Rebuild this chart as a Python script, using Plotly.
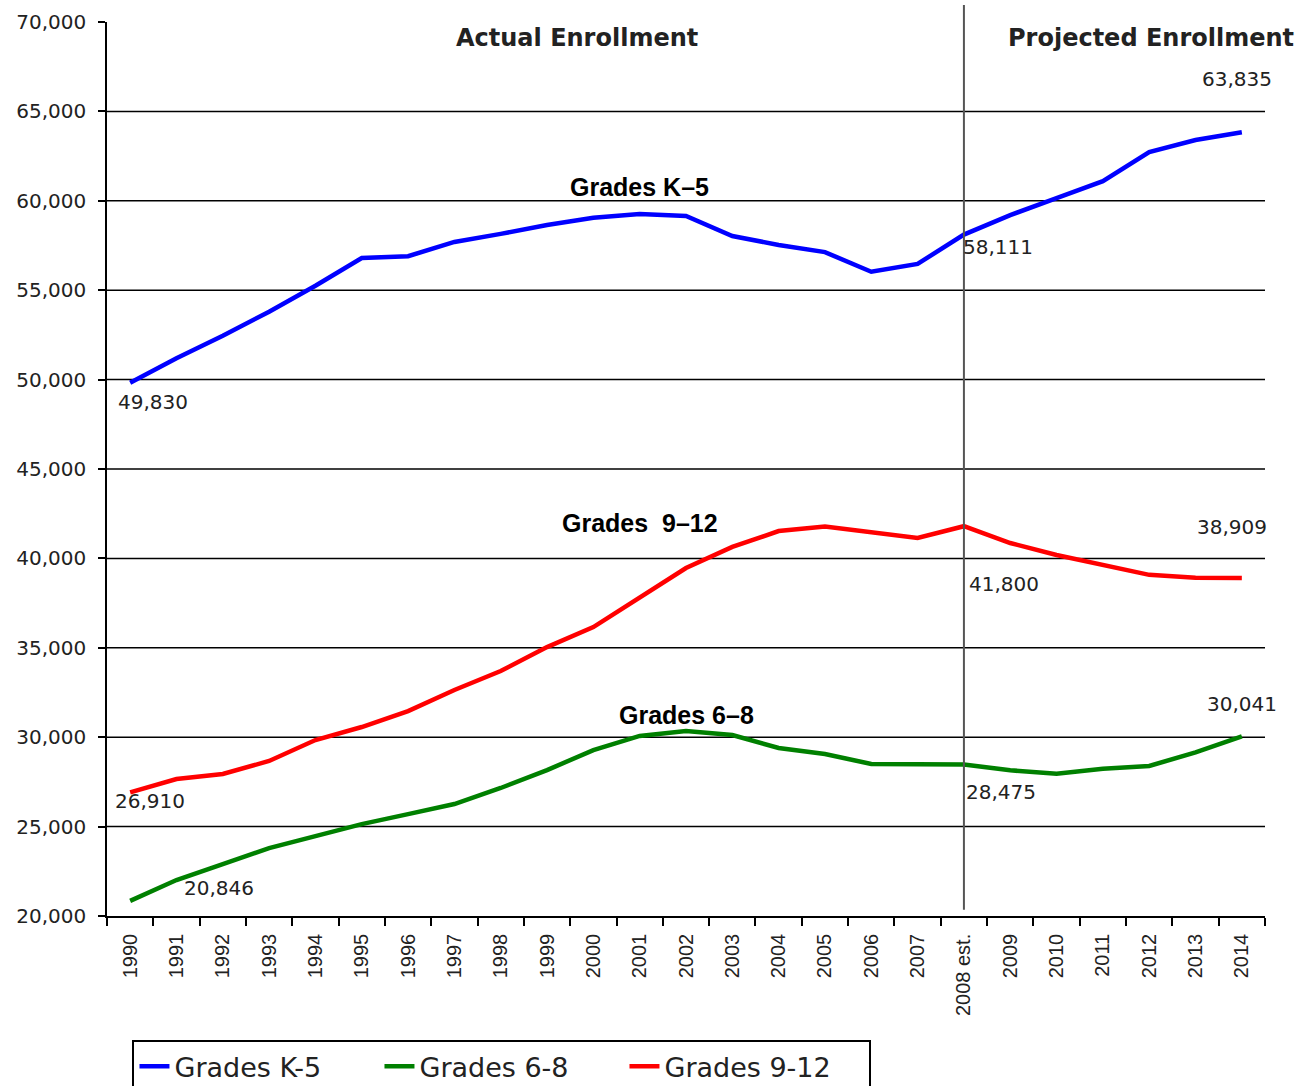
import plotly.graph_objects as go

years = ["1990", "1991", "1992", "1993", "1994", "1995", "1996", "1997", "1998",
         "1999", "2000", "2001", "2002", "2003", "2004", "2005", "2006", "2007",
         "2008 est.", "2009", "2010", "2011", "2012", "2013", "2014"]

grades_k5 = [49830, 51200, 52450, 53800, 55250, 56800, 56900, 57700, 58150,
             58650, 59050, 59260, 59150, 58030, 57530, 57130, 56030, 56470,
             58111, 59200, 60150, 61100, 62730, 63400, 63835]

grades_6_8 = [20846, 22010, 22900, 23800, 24470, 25140, 25700, 26260, 27160,
              28160, 29280, 30070, 30350, 30120, 29400, 29060, 28500, 28500,
              28475, 28150, 27950, 28230, 28390, 29150, 30041]

grades_9_12 = [26910, 27660, 27940, 28670, 29840, 30570, 31460, 32640, 33700,
               35040, 36160, 37840, 39460, 40640, 41530, 41780, 41480, 41140,
               41800, 40860, 40190, 39630, 39080, 38920, 38909]

y_ticks = [20000, 25000, 30000, 35000, 40000, 45000, 50000, 55000, 60000, 65000, 70000]
grid_vals = [25000, 30000, 35000, 40000, 45000, 50000, 55000, 60000, 65000]

fig = go.Figure()
fig.add_trace(go.Scatter(x=years, y=grades_k5, mode="lines", name="Grades K-5",
                         line=dict(color="#0000FF", width=4.5)))
fig.add_trace(go.Scatter(x=years, y=grades_6_8, mode="lines", name="Grades 6-8",
                         line=dict(color="#008000", width=4.5)))
fig.add_trace(go.Scatter(x=years, y=grades_9_12, mode="lines", name="Grades 9-12",
                         line=dict(color="#FF0000", width=4.5)))

shapes = []
for g in grid_vals:
    shapes.append(dict(type="line", xref="paper", x0=0, x1=1, yref="y", y0=g, y1=g,
                       line=dict(color="black", width=1.5), layer="below"))
shapes.append(dict(type="line", xref="x", x0=18, x1=18, yref="paper",
                   y0=0.007, y1=1.019, line=dict(color="#555555", width=2)))

lab_font = dict(family="DejaVu Sans", size=20, color="#222222")
bold_font = dict(family="Liberation Sans", size=25, color="black")
head_font = dict(family="DejaVu Sans", size=24, color="#222222")

i_end = len(years) - 1
i_est = years.index("2008 est.")
annotations = [
    dict(x=0, y=grades_k5[0], text="49,830", xshift=23, yshift=-19),
    dict(x=0, y=grades_9_12[0], text="26,910", xshift=20, yshift=-9),
    dict(x=0, y=grades_6_8[0], text="20,846", xshift=89, yshift=13),
    dict(x=i_est, y=grades_k5[i_est], text="58,111", xshift=34, yshift=-12),
    dict(x=i_est, y=grades_9_12[i_est], text="41,800", xshift=40, yshift=-58),
    dict(x=i_est, y=grades_6_8[i_est], text="28,475", xshift=37, yshift=-28),
    dict(x=i_end, y=grades_k5[i_end], text="63,835", xshift=-5, yshift=53),
    dict(x=i_end, y=grades_9_12[i_end], text="38,909", xshift=-10, yshift=51),
    dict(x=i_end, y=grades_6_8[i_end], text="30,041", xshift=0, yshift=32),
]
for a in annotations:
    a.update(xref="x", yref="y", showarrow=False, font=lab_font,
             xanchor="center", yanchor="middle")

annotations += [
    dict(x=11, y=60772, xref="x", yref="y", text="<b>Grades K–5</b>", showarrow=False,
         font=bold_font, xanchor="center", yanchor="middle"),
    dict(x=11, y=41980, xref="x", yref="y", text="<b>Grades  9–12</b>", showarrow=False,
         font=bold_font, xanchor="center", yanchor="middle"),
    dict(x=12, y=31240, xref="x", yref="y", text="<b>Grades 6–8</b>", showarrow=False,
         font=bold_font, xanchor="center", yanchor="middle"),
    dict(x=0.406, y=0.982, xref="paper", yref="paper", text="<b>Actual Enrollment</b>",
         showarrow=False, font=head_font, xanchor="center", yanchor="middle"),
    dict(x=0.9016, y=0.982, xref="paper", yref="paper", text="<b>Projected Enrollment</b>",
         showarrow=False, font=head_font, xanchor="center", yanchor="middle"),
]

fig.update_layout(
    width=1302, height=1086,
    margin=dict(l=107, r=37, t=22, b=170, autoexpand=False),
    paper_bgcolor="white", plot_bgcolor="white",
    shapes=shapes, annotations=annotations,
    showlegend=True,
    legend=dict(orientation="h", x=0.022, y=-0.139, xanchor="left", yanchor="top",
                bordercolor="black", borderwidth=2, bgcolor="white",
                font=dict(family="DejaVu Sans", size=27, color="#222222"),
                entrywidth=200, entrywidthmode="pixels"),
    xaxis=dict(type="category", range=[-0.5, 24.5], showgrid=False, tickson="boundaries",
               ticks="outside", ticklen=8, tickwidth=1.5, tickcolor="black",
               showline=True, linecolor="black", linewidth=1.5, tickangle=-90,
               ticklabelstandoff=8, automargin=False,
               tickfont=dict(family="Liberation Sans", size=20, color="#222222"),
               zeroline=False),
    yaxis=dict(range=[20000, 70000], tickvals=y_ticks, tickformat=",", showgrid=False,
               ticks="outside", ticklen=7, tickwidth=1.5, tickcolor="black",
               showline=True, linecolor="black", linewidth=1.5, zeroline=False,
               ticklabelstandoff=8, automargin=False,
               tickfont=dict(family="DejaVu Sans", size=20, color="#222222")),
)

fig.write_html("out.html", config={"displayModeBar": False},
               post_script="document.body.style.margin='0';")
